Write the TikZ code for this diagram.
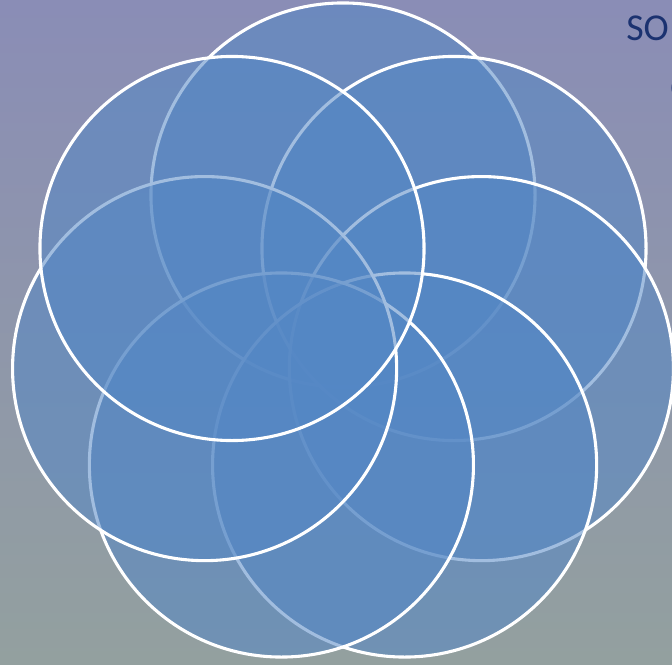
\documentclass[tikz,border=0pt]{standalone}
\usepackage{fontspec}
\setmainfont{Carlito}
\usetikzlibrary{calc}
\definecolor{petalblue}{HTML}{5487C5}
\definecolor{bgtop}{HTML}{8A8DB6}
\definecolor{bgbot}{HTML}{93A09F}
\definecolor{titlenavy}{HTML}{1B3270}
\tikzset{
  petal/.style={fill=petalblue, fill opacity=0.55, draw=white, line width=2.2pt},
  heading/.style={anchor=base west, inner sep=0pt, text=titlenavy, font=\fontsize{27}{32}\selectfont}
}

\begin{document}
\begin{tikzpicture}[x=0.025cm, y=-0.025cm]
                        \useasboundingbox (0,0) rectangle (672,665);
                        \clip (0,0) rectangle (672,665);
                        \shade[top color=bgtop, bottom color=bgbot] (0,0) rectangle (672,665);
                        \filldraw[petal] (343,195) circle[radius=4.8cm];
                        \filldraw[petal] (454,248.5) circle[radius=4.8cm];
                        \filldraw[petal] (481.4,368.6) circle[radius=4.8cm];
                        \filldraw[petal] (404.6,465) circle[radius=4.8cm];
                        \filldraw[petal] (281.4,465) circle[radius=4.8cm];
                        \filldraw[petal] (204.6,368.6) circle[radius=4.8cm];
                        \filldraw[petal] (232,248.5) circle[radius=4.8cm];
                        \node[heading] (title) at (626,40) {SO};
                        \node[heading] (subtitle) at (670,100) {C};
                    \end{tikzpicture}
\end{document}
